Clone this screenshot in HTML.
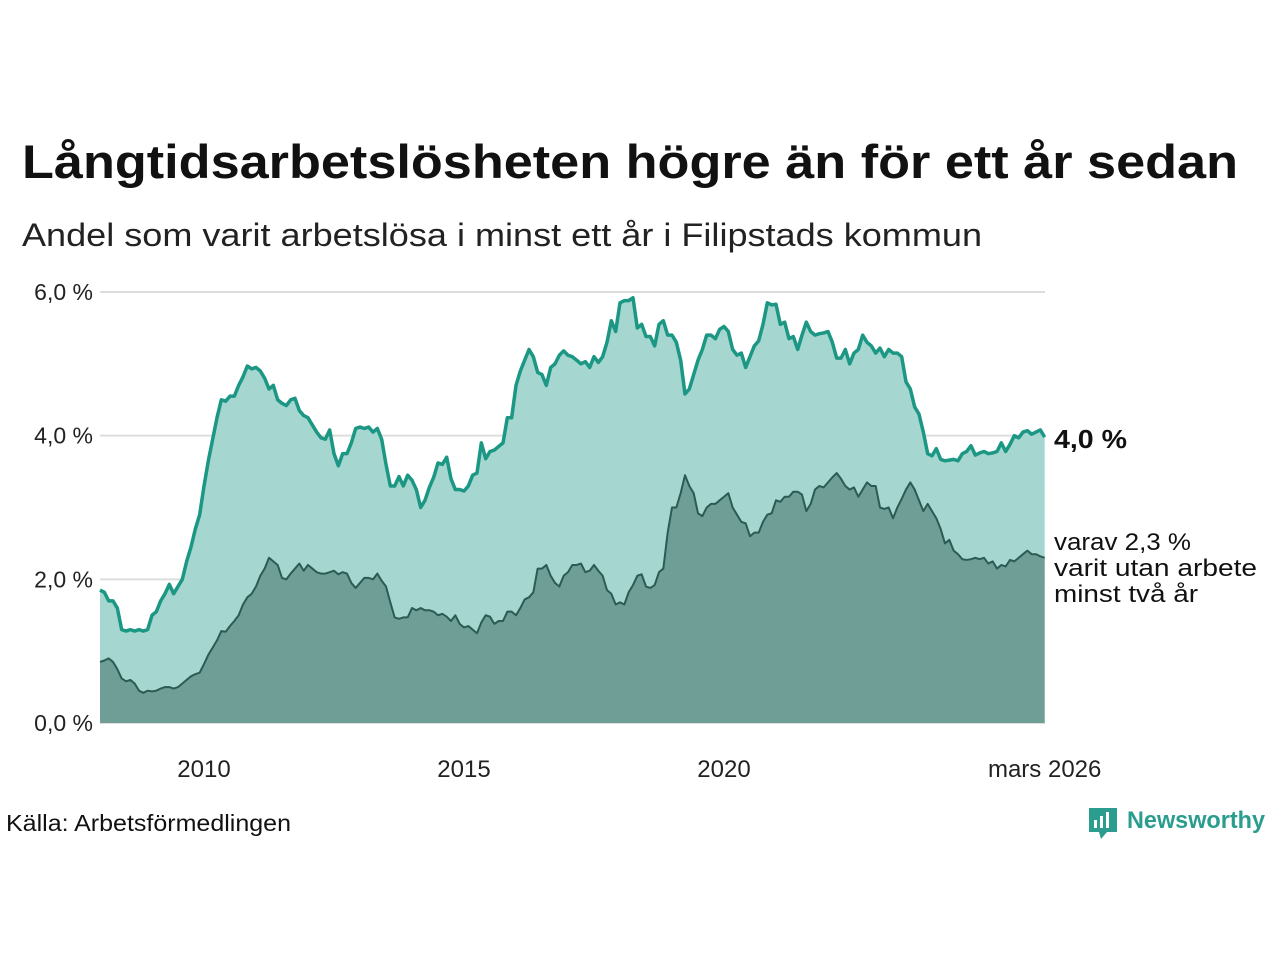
<!DOCTYPE html>
<html><head><meta charset="utf-8"><style>
body{margin:0;background:#fff;}
svg text{font-family:"Liberation Sans","DejaVu Sans",sans-serif;}
</style></head><body>
<svg id="chart" width="1280" height="960" viewBox="0 0 1280 960" xmlns="http://www.w3.org/2000/svg">
<text x="22" y="178" font-size="47" font-weight="bold" fill="#111" textLength="1216" lengthAdjust="spacingAndGlyphs">Långtidsarbetslösheten högre än för ett år sedan</text>
<text x="22" y="246" font-size="32" fill="#222" textLength="960" lengthAdjust="spacingAndGlyphs">Andel som varit arbetslösa i minst ett år i Filipstads kommun</text>
<g id="grid"></g>
<g id="areas"></g>
<g id="yticks"></g>
<g id="xticks"></g>
<text x="1054" y="448" font-size="26" font-weight="bold" fill="#111" textLength="73" lengthAdjust="spacingAndGlyphs">4,0 %</text>
<g font-size="24" fill="#111">
<text x="1054" y="550" textLength="137" lengthAdjust="spacingAndGlyphs">varav 2,3 %</text>
<text x="1054" y="576" textLength="203" lengthAdjust="spacingAndGlyphs">varit utan arbete</text>
<text x="1054" y="602" textLength="144" lengthAdjust="spacingAndGlyphs">minst två år</text>
</g>
<text x="6" y="831" font-size="23" fill="#111" textLength="285" lengthAdjust="spacingAndGlyphs">Källa: Arbetsförmedlingen</text>
<g>
<path d="M1089 808 h28 v24 h-10 l-6 7 l-2 -7 h-10 z" fill="#2a9d8f"/>
<rect x="1094" y="820" width="3" height="8" fill="#fff"/><rect x="1100" y="816" width="3" height="12" fill="#fff"/><rect x="1106" y="812" width="3" height="16" fill="#fff"/>
<text x="1127" y="828" font-size="24" font-weight="bold" fill="#2a9d8f" textLength="138" lengthAdjust="spacingAndGlyphs">Newsworthy</text>
</g>
</svg>
<script>
const totalValues=[1.85,1.82,1.7,1.7,1.6,1.3,1.28,1.3,1.28,1.3,1.28,1.3,
1.5,1.55,1.7,1.8,1.93,1.8,1.9,2.0,2.25,2.45,2.7,2.9,
3.3,3.65,3.95,4.25,4.5,4.48,4.55,4.55,4.7,4.82,4.97,4.93,
4.95,4.9,4.8,4.65,4.7,4.5,4.45,4.42,4.5,4.52,4.35,4.28,
4.25,4.15,4.05,3.97,3.95,4.08,3.75,3.58,3.75,3.75,3.9,4.1,
4.12,4.1,4.12,4.05,4.1,3.95,3.6,3.3,3.3,3.43,3.3,3.45,
3.38,3.25,3.0,3.1,3.28,3.42,3.62,3.6,3.7,3.4,3.25,3.25,
3.23,3.3,3.45,3.48,3.9,3.68,3.78,3.8,3.85,3.9,4.25,4.25,
4.7,4.9,5.05,5.2,5.1,4.88,4.85,4.7,4.95,5.0,5.12,5.18,
5.12,5.1,5.05,5.0,5.03,4.95,5.1,5.02,5.1,5.3,5.6,5.45,
5.85,5.88,5.88,5.92,5.5,5.55,5.38,5.38,5.25,5.55,5.6,5.4,
5.4,5.3,5.05,4.58,4.65,4.85,5.05,5.2,5.4,5.4,5.35,5.48,
5.52,5.45,5.2,5.12,5.15,4.95,5.1,5.25,5.32,5.55,5.85,5.82,
5.83,5.55,5.58,5.35,5.38,5.2,5.4,5.58,5.45,5.4,5.42,5.43,
5.45,5.3,5.08,5.08,5.2,5.0,5.15,5.2,5.4,5.3,5.25,5.15,
5.22,5.1,5.2,5.15,5.15,5.1,4.75,4.65,4.4,4.3,4.05,3.75,
3.72,3.82,3.67,3.65,3.66,3.67,3.65,3.75,3.78,3.86,3.73,3.76,
3.78,3.75,3.76,3.78,3.9,3.78,3.88,4.0,3.97,4.05,4.07,4.02,
4.05,4.08,3.98];
const twoYearValues=[0.85,0.87,0.9,0.85,0.75,0.62,0.58,0.6,0.55,0.45,0.42,0.45,
0.44,0.45,0.48,0.5,0.5,0.48,0.5,0.55,0.6,0.65,0.68,0.7,
0.82,0.95,1.05,1.15,1.28,1.27,1.35,1.42,1.5,1.65,1.75,1.8,
1.9,2.05,2.15,2.3,2.25,2.2,2.02,2.0,2.08,2.15,2.22,2.12,
2.2,2.15,2.1,2.08,2.08,2.1,2.12,2.07,2.1,2.08,1.95,1.88,
1.95,2.02,2.02,2.0,2.08,1.98,1.9,1.68,1.47,1.45,1.47,1.47,
1.6,1.57,1.6,1.57,1.57,1.55,1.5,1.52,1.48,1.42,1.5,1.38,
1.33,1.35,1.3,1.25,1.4,1.5,1.48,1.38,1.42,1.42,1.55,1.55,
1.5,1.6,1.72,1.75,1.82,2.15,2.15,2.2,2.05,1.95,1.9,2.05,
2.1,2.2,2.2,2.22,2.1,2.12,2.2,2.12,2.05,1.85,1.8,1.65,
1.68,1.65,1.82,1.92,2.05,2.07,1.9,1.88,1.92,2.1,2.15,2.65,
3.0,3.0,3.2,3.45,3.3,3.2,2.92,2.88,3.0,3.05,3.05,3.1,
3.15,3.2,3.0,2.9,2.8,2.78,2.6,2.65,2.65,2.8,2.9,2.92,
3.1,3.08,3.15,3.15,3.22,3.22,3.18,2.95,3.05,3.25,3.3,3.28,
3.35,3.42,3.48,3.4,3.3,3.25,3.28,3.15,3.25,3.35,3.3,3.3,
3.0,2.98,3.0,2.85,3.0,3.12,3.25,3.35,3.25,3.1,2.95,3.05,
2.95,2.85,2.7,2.5,2.55,2.4,2.35,2.28,2.27,2.28,2.3,2.28,
2.3,2.22,2.25,2.15,2.2,2.18,2.27,2.25,2.3,2.35,2.4,2.35,
2.35,2.32,2.3];
const yTickValues=[0,2,4,6];
const yTickLabels=["0,0 %","2,0 %","4,0 %","6,0 %"];
const xTickYears=[2010,2015,2020,2026.1667];
const xTickLabels=["2010","2015","2020","mars 2026"];
const startYear=2008;

const NS="http://www.w3.org/2000/svg";
const x0=100,pxPerYear=52,y0=723,pxPerUnit=71.83;
const xYear=t=>x0+(t-startYear)*pxPerYear;
const xIdx=i=>xYear(startYear+i/12);
const yVal=v=>y0-v*pxPerUnit;
function mk(tag,attrs,parent){const e=document.createElementNS(NS,tag);for(const k in attrs)e.setAttribute(k,attrs[k]);parent.appendChild(e);return e;}
const grid=document.getElementById('grid'),yt=document.getElementById('yticks'),xt=document.getElementById('xticks'),areas=document.getElementById('areas');
yTickValues.forEach((v,i)=>{
  const l=mk('line',{x1:x0,x2:1045,y1:yVal(v),y2:yVal(v),stroke:'#dddddd','stroke-width':2},grid);
  
  
  const t=mk('text',{x:93,y:yVal(v)+8,'font-size':23,fill:'#222','text-anchor':'end'},yt);
  t.textContent=yTickLabels[i];
  
  
});
xTickYears.forEach((yr,i)=>{
  const t=mk('text',{x:xYear(yr),y:777,'font-size':24,fill:'#222','text-anchor':'middle'},xt);
  t.textContent=xTickLabels[i];
  
  
});
function line(vals){return vals.map((v,i)=>(i?'L':'M')+xIdx(i).toFixed(2)+' '+yVal(v).toFixed(2)).join(' ');}
function area(vals){const n=vals.length-1;return line(vals)+` L${xIdx(n)} ${y0} L${xIdx(0)} ${y0} Z`;}
const a1=mk('path',{d:area(totalValues),fill:'#a5d6d0'},areas);


const a2=mk('path',{d:area(twoYearValues),fill:'#6f9e96'},areas);


const l1=mk('path',{d:line(totalValues),fill:'none',stroke:'#1b9784','stroke-width':3.5,'stroke-linejoin':'round'},areas);


const l2=mk('path',{d:line(twoYearValues),fill:'none',stroke:'#2b5c53','stroke-width':2,'stroke-linejoin':'round'},areas);


</script>
</body></html>
